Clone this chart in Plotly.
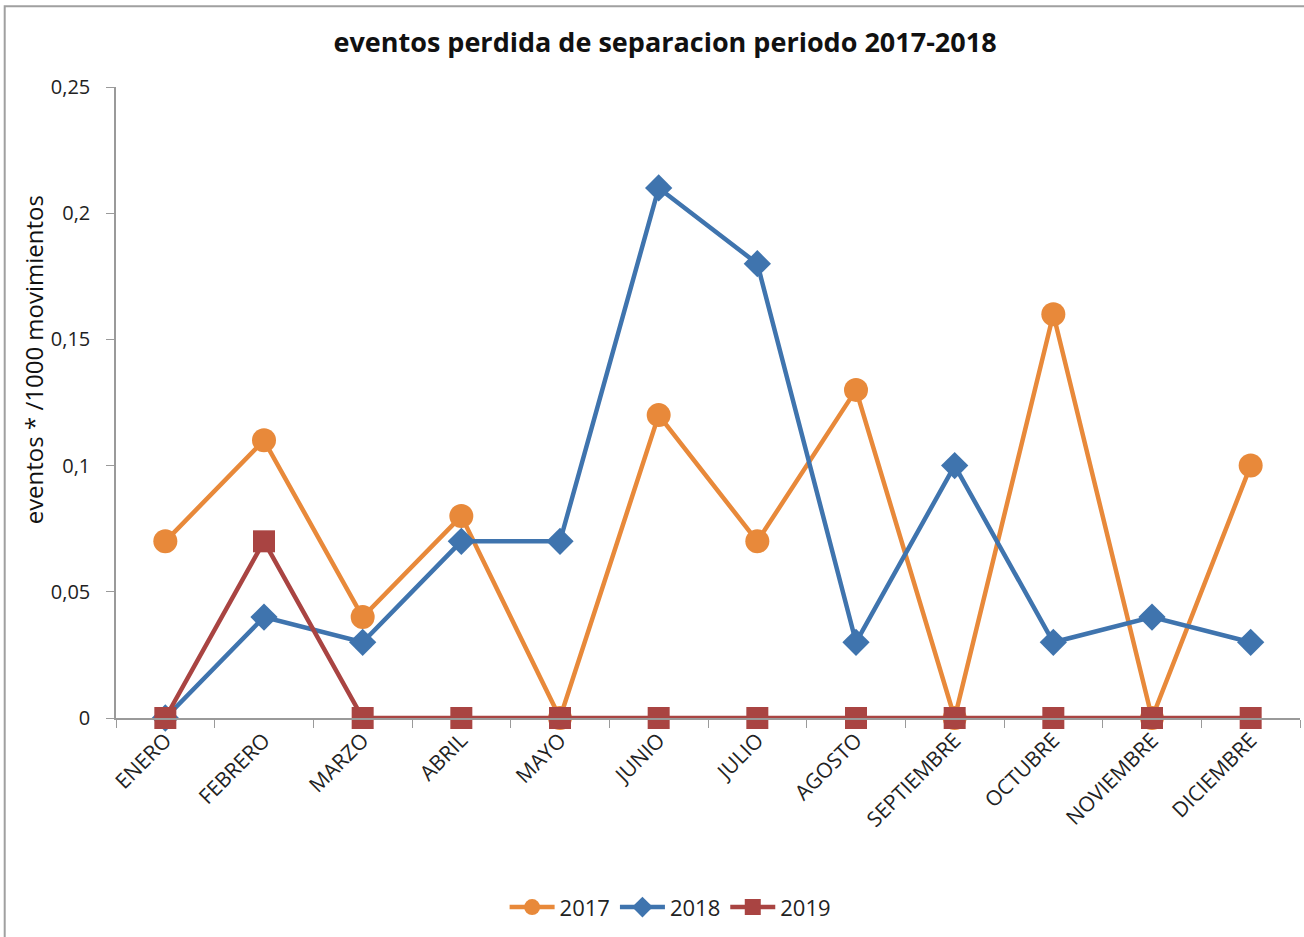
import plotly.graph_objects as go

# Data
meses = ["ENERO", "FEBRERO", "MARZO", "ABRIL", "MAYO", "JUNIO", "JULIO",
         "AGOSTO", "SEPTIEMBRE", "OCTUBRE", "NOVIEMBRE", "DICIEMBRE"]
valores_2017 = [0.07, 0.11, 0.04, 0.08, 0.0, 0.12, 0.07, 0.13, 0.0, 0.16, 0.0, 0.10]
valores_2018 = [0.0, 0.04, 0.03, 0.07, 0.07, 0.21, 0.18, 0.03, 0.10, 0.03, 0.04, 0.03]
valores_2019 = [0.0, 0.07, 0.0, 0.0, 0.0, 0.0, 0.0, 0.0, 0.0, 0.0, 0.0, 0.0]
y_ticks = [0, 0.05, 0.1, 0.15, 0.2, 0.25]
y_tick_labels = ["0", "0,05", "0,1", "0,15", "0,2", "0,25"]

COLORS = {"2017": "#E8893A", "2018": "#3F74AE", "2019": "#A94442"}
FONT = "Open Sans"

fig = go.Figure()

series = [
    ("2017", valores_2017, "circle", 24),
    ("2018", valores_2018, "diamond", 21),
    ("2019", valores_2019, "square", 22),
]
for name, vals, symbol, size in series:
    fig.add_trace(
        go.Scatter(
            x=meses,
            y=vals,
            name=name,
            mode="lines+markers",
            line=dict(color=COLORS[name], width=4.5),
            marker=dict(symbol=symbol, size=size, color=COLORS[name]),
            cliponaxis=False,
        )
    )

fig.update_layout(
    width=1304,
    height=937,
    paper_bgcolor="white",
    plot_bgcolor="white",
    font=dict(family=FONT, color="#222222"),
    title=dict(
        text="<b>eventos perdida de separacion periodo 2017-2018</b>",
        x=0.51,
        xanchor="center",
        y=0.955,
        yanchor="middle",
        font=dict(size=27, color="#111111", family=FONT),
    ),
    margin=dict(l=116, r=4, t=87, b=219),
    showlegend=True,
    legend=dict(
        orientation="h",
        x=0.468,
        xanchor="center",
        y=-0.30,
        yanchor="middle",
        font=dict(size=22, color="#222222"),
        itemwidth=45,
        traceorder="normal",
    ),
    xaxis=dict(
        type="category",
        range=[-0.5, 11.5],
        tickson="boundaries",
        ticks="outside",
        ticklen=8,
        tickcolor="#9a9a9a",
        showline=True,
        linecolor="#9a9a9a",
        linewidth=1.5,
        showgrid=False,
        tickangle=-45,
        tickfont=dict(size=21, color="#222222"),
    ),
    yaxis=dict(
        range=[0, 0.25],
        tickvals=y_ticks,
        ticktext=y_tick_labels,
        ticks="outside",
        ticklen=8,
        tickcolor="#9a9a9a",
        showline=True,
        linecolor="#9a9a9a",
        linewidth=1.5,
        showgrid=False,
        zeroline=False,
        ticklabelstandoff=12,
        tickfont=dict(size=20, color="#222222"),
    ),
)

# y-axis title placed as in the reference (above the axis centre)
fig.add_annotation(
    text="eventos * /1000 movimientos",
    textangle=-90,
    xref="paper",
    yref="paper",
    x=-0.07,
    y=0.567,
    xanchor="center",
    yanchor="middle",
    showarrow=False,
    font=dict(size=24, color="#111111"),
)

# outer chart-area frame
fig.add_shape(
    type="rect",
    xref="paper",
    yref="paper",
    x0=-0.094,
    x1=1.05,
    y0=-0.5,
    y1=1.128,
    line=dict(color="#a0a0a0", width=2),
    fillcolor="rgba(0,0,0,0)",
    layer="below",
)

fig.write_html(
    "out.html",
    config={"displayModeBar": False},
    post_script="document.body.style.margin='0';",
)
